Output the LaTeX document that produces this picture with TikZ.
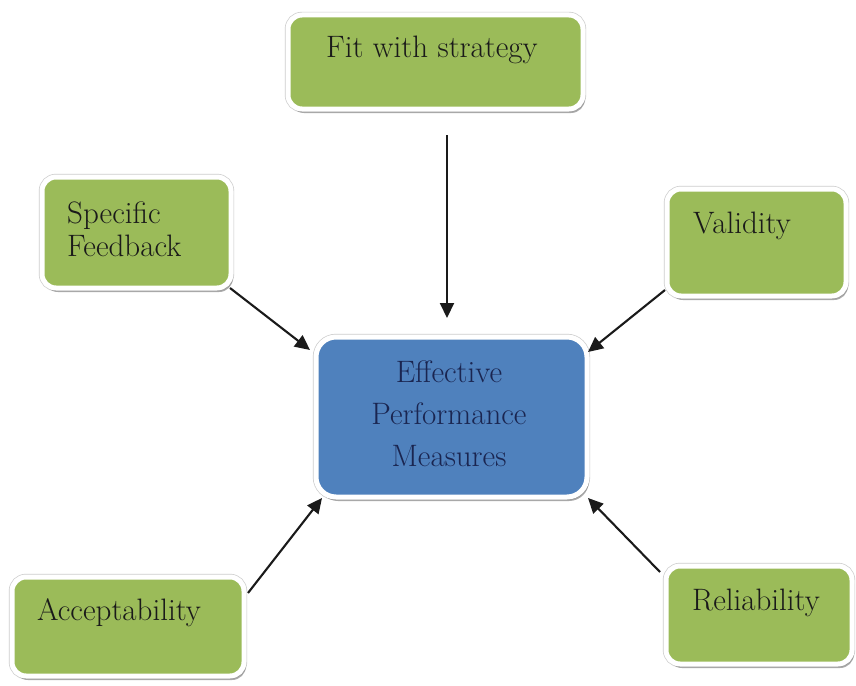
\documentclass[tikz,border=0pt]{standalone}
\usepackage{fontspec}
\usetikzlibrary{arrows.meta,shadows,calc}

\definecolor{leaf}{HTML}{9BBB59}
\definecolor{core}{HTML}{4F81BD}
\definecolor{navy}{HTML}{1A2550}
\definecolor{ink}{HTML}{1A1A1A}

\tikzset{
  card/.style={rounded corners=14pt, draw=white, line width=5pt,
    preaction={draw=black!20, line width=6.4pt},
    inner sep=0pt, outer sep=0pt,
    drop shadow={shadow xshift=2pt, shadow yshift=-4pt, opacity=.6, fill=black!55}},
  greencard/.style={card, fill=leaf},
  bluecard/.style={card, fill=core, rounded corners=20pt},
  cardtext/.style={inner sep=0pt, text=ink, font=\fontsize{31}{36}\selectfont},
  link/.style={line width=2.1pt, draw=ink, -{Triangle[length=15pt,width=14pt]}}
}

\begin{document}
\begin{tikzpicture}[x=1pt, y=-1pt]
  \useasboundingbox[fill=white] (0,0) rectangle (856,685);

  % boxes
  \node[greencard, minimum width=295pt, minimum height=94pt]  (fit) at (435.5,62) {};
  \node[greencard, minimum width=189pt, minimum height=111pt] (sf)  at (136.5,232.5) {};
  \node[greencard, minimum width=179pt, minimum height=107pt] (val) at (756.5,242.5) {};
  \node[bluecard,  minimum width=271pt, minimum height=160pt] (ctr) at (451.5,417) {};
  \node[greencard, minimum width=232pt, minimum height=99pt]  (acc) at (128,626.5) {};
  \node[greencard, minimum width=186pt, minimum height=98pt]  (rel) at (759,615) {};

  % labels
  \node[cardtext, anchor=base] (fitT) at (432,57) {Fit with strategy};
  \node[cardtext, anchor=base west] (sfT1) at (67,223) {Specific};
  \node[cardtext, anchor=base west] (sfT2) at (67,256) {Feedback};
  \node[cardtext, anchor=base west] (valT) at (693,233) {Validity};
  \node[cardtext, anchor=base west] (accT) at (37,620) {Acceptability};
  \node[cardtext, anchor=base west] (relT) at (692,610) {Reliability};
  \node[cardtext, text=navy, align=center,
        font=\fontsize{31}{42}\selectfont] (ctrT) at (449,414)
        {Effective\\Performance\\Measures};

  % arrows into the central measure
  \draw[link] ($(fit.south)+(11.5,26)$) -- ($(ctr.north)+(-4.5,-19)$);
  \draw[link] ($(sf.south east)+(-1,0)$) -- ($(ctr.north west)+(-6,13)$);
  \draw[link] ($(val.south west)+(-2,-6)$) -- ($(ctr.north east)+(1,15)$);
  \draw[link] ($(acc.north east)+(4,16)$) -- ($(ctr.south west)+(6,1)$);
  \draw[link] ($(rel.north west)+(-6,6)$) -- ($(ctr.south east)+(1,1)$);
\end{tikzpicture}
\end{document}
